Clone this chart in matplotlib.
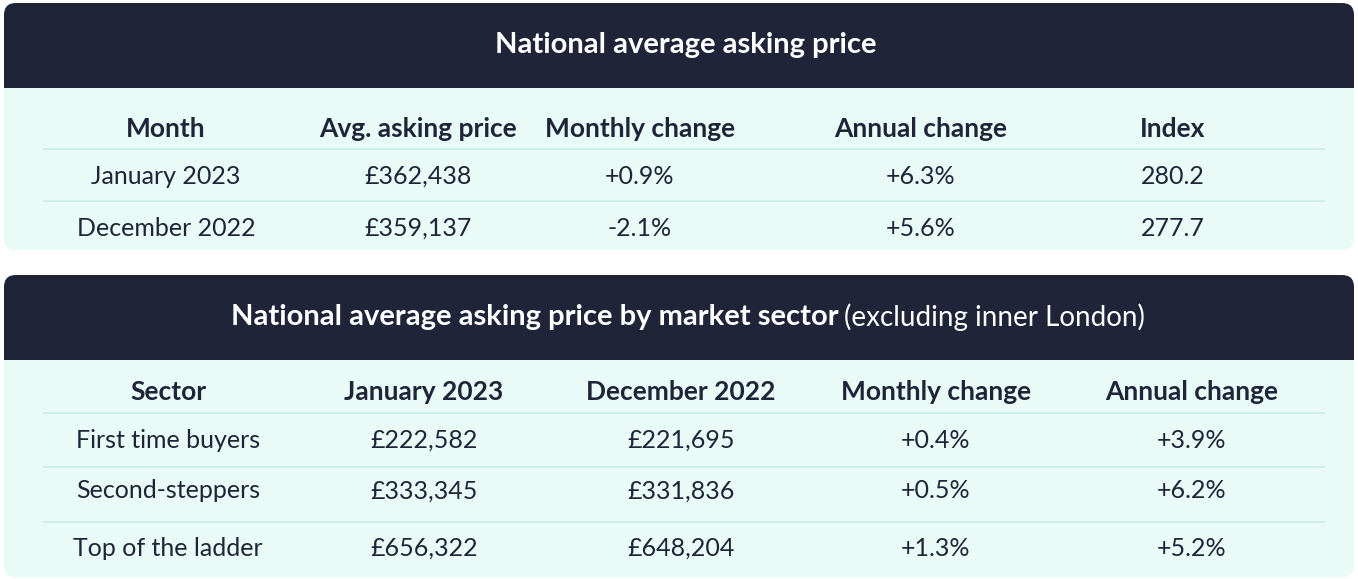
import matplotlib
matplotlib.use("Agg")
import matplotlib.pyplot as plt
from matplotlib.patches import FancyBboxPatch, Rectangle

plt.rcParams['font.family'] = ['Lato', 'DejaVu Sans']

title1 = "National average asking price"
cols1 = ["Month", "Avg. asking price", "Monthly change", "Annual change", "Index"]
rows1 = [["January 2023", "£362,438", "+0.9%", "+6.3%", "280.2"],
         ["December 2022", "£359,137", "-2.1%", "+5.6%", "277.7"]]

title2_bold = "National average asking price by market sector"
title2_normal = "(excluding inner London)"
cols2 = ["Sector", "January 2023", "December 2022", "Monthly change", "Annual change"]
rows2 = [["First time buyers", "£222,582", "£221,695", "+0.4%", "+3.9%"],
         ["Second-steppers", "£333,345", "£331,836", "+0.5%", "+6.2%"],
         ["Top of the ladder", "£656,322", "£648,204", "+1.3%", "+5.2%"]]

DARK = "#1f2439"
MINT = "#e9fbf6"
LINE = "#cfeee6"
TXT = "#1f2439"

fig = plt.figure(figsize=(13.58, 5.79), dpi=100)
ax = fig.add_axes([0, 0, 1, 1])
ax.set_xlim(0, 1358); ax.set_ylim(579, 0); ax.axis('off')

def panel(y0, y1, yh):
    ax.add_patch(FancyBboxPatch((4, y0), 1350, y1 - y0, boxstyle="round,pad=0,rounding_size=12",
                                fc=MINT, ec='none'))
    ax.add_patch(FancyBboxPatch((4, y0), 1350, yh - y0, boxstyle="round,pad=0,rounding_size=12",
                                fc=DARK, ec='none'))
    ax.add_patch(Rectangle((4, yh - 15), 1350, 15, fc=DARK, ec='none'))

panel(3, 250, 88)
panel(275, 577, 360)

ax.text(686, 45, title1, color='white', fontsize=21, fontweight='bold', ha='center', va='center')
ax.text(839, 317, title2_bold, color='white', fontsize=21, fontweight='bold', ha='right', va='center')
ax.text(844, 317, title2_normal, color='white', fontsize=20, ha='left', va='center')

def table(xs, cols, rows, yhdr, yrows, ylines):
    for x, c in zip(xs, cols):
        ax.text(x, yhdr, c, color=TXT, fontsize=19, fontweight='bold', ha='center', va='center')
    for yl in ylines:
        ax.plot([44, 1324], [yl, yl], color=LINE, lw=1.5)
    for y, r in zip(yrows, rows):
        for x, v in zip(xs, r):
            ax.text(x, y, v, color=TXT, fontsize=18, ha='center', va='center')

table([166, 418, 640, 921, 1173], cols1, rows1, 129, [176, 228], [149, 201])
table([168, 424, 681, 936, 1192], cols2, rows2, 392, [440, 491, 548], [413, 467, 522])

fig.savefig("out.png", dpi=100)
